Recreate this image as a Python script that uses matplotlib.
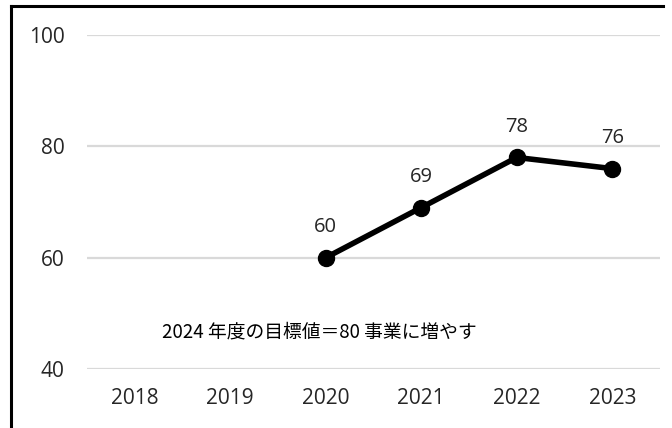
import numpy as np
import matplotlib.pyplot as plt
from matplotlib.lines import Line2D

plt.rcParams['font.family'] = ['Open Sans', 'Noto Sans CJK JP', 'DejaVu Sans']

# 年度ごとの事業数
years = ['2018', '2019', '2020', '2021', '2022', '2023']
counts = [np.nan, np.nan, 60, 69, 78, 76]
note = '2024 年度の目標値＝80 事業に増やす'

fig = plt.figure(figsize=(6.72, 4.28), dpi=100)
ax = fig.add_axes([87/672, 1-369/428, (660-87)/672, (369-35)/428])

x = np.arange(len(years))
ax.plot(x, counts, color='black', lw=4, marker='o', ms=11.5, zorder=3)
for xi, v in zip(x, counts):
    if not np.isnan(v):
        ax.annotate(f'{v:.0f}', (xi, v), xytext=(0, 22), textcoords='offset points',
                    ha='center', va='center', fontsize=14.5, color='#262626')

ax.text(1.93, 46.6, note, ha='center', va='center', fontsize=13.5,
        family=['Noto Sans CJK JP', 'DejaVu Sans'], color='black')

ax.set_xlim(-0.5, 5.5)
ax.set_ylim(40, 100)
ax.set_xticks(x)
ax.set_xticklabels(years)
ax.set_yticks([40, 60, 80, 100])
ax.yaxis.grid(True, color='#d9d9d9', lw=1.6)
ax.set_axisbelow(True)
for s in ax.spines.values():
    s.set_visible(False)
ax.tick_params(length=0, labelsize=15, colors='#262626')
ax.tick_params(axis='x', pad=14)
ax.tick_params(axis='y', pad=16)

# 枠線（左と上）
fig.add_artist(Line2D([11/672, 11/672], [0, 1-6/428], color='black', lw=2.2))
fig.add_artist(Line2D([11/672, 663/672], [1-6/428, 1-6/428], color='black', lw=2.2))

fig.savefig('out.png', dpi=100)
